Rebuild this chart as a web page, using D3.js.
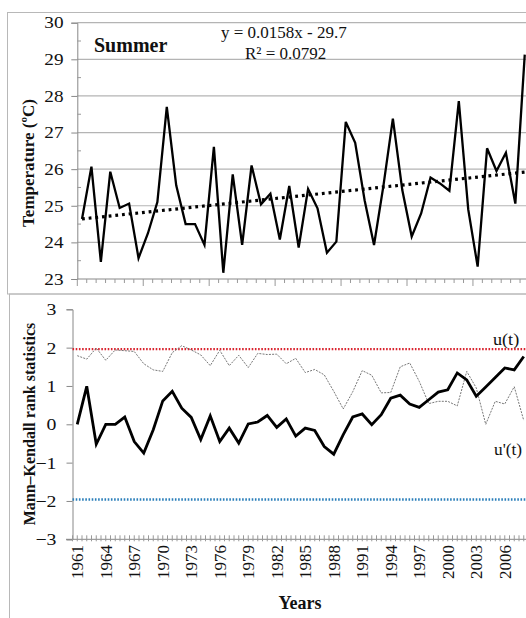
<!DOCTYPE html>
<html><head><meta charset="utf-8">
<script src="https://cdn.jsdelivr.net/npm/d3@7"></script>
<style>body{margin:0;background:#fff}svg{display:block}text{font-family:"Liberation Serif","Times New Roman",serif;fill:#111}</style>
</head><body><svg id="c" width="526" height="618"></svg>
<script>
const years = [1961,1962,1963,1964,1965,1966,1967,1968,1969,1970,1971,1972,1973,1974,1975,1976,1977,1978,1979,1980,1981,1982,1983,1984,1985,1986,1987,1988,1989,1990,1991,1992,1993,1994,1995,1996,1997,1998,1999,2000,2001,2002,2003,2004,2005,2006,2007,2008];
const temperature = [24.64,26.07,23.47,25.93,24.94,25.06,23.57,24.25,25.1,27.7,25.56,24.5,24.5,23.93,26.61,23.17,25.86,23.93,26.1,25.04,25.33,24.08,25.54,23.86,25.46,24.93,23.72,24.02,27.29,26.72,25.15,23.93,25.55,27.38,25.43,24.16,24.79,25.77,25.61,25.41,27.86,24.9,23.34,26.57,25.95,26.45,25.06,29.13];
const trendYears = [1961, 2008];
const trendValues = [24.64, 25.92];
const uForward = [0.0,0.99,-0.52,0.0,0.0,0.19,-0.45,-0.75,-0.14,0.61,0.86,0.42,0.18,-0.4,0.22,-0.45,-0.1,-0.49,0.01,0.06,0.23,-0.08,0.14,-0.31,-0.1,-0.16,-0.58,-0.78,-0.27,0.19,0.27,-0.01,0.25,0.68,0.76,0.53,0.44,0.64,0.84,0.9,1.34,1.16,0.73,0.97,1.22,1.47,1.42,1.77];
const uBackward = [1.79,1.7,1.99,1.67,1.94,1.92,1.9,1.58,1.42,1.38,1.87,2.05,1.94,1.81,1.53,1.93,1.53,1.8,1.48,1.85,1.82,1.83,1.58,1.72,1.35,1.43,1.29,0.86,0.4,0.85,1.4,1.28,0.82,0.83,1.5,1.6,1.12,0.54,0.6,0.6,0.48,1.38,0.95,0.0,0.6,0.53,0.98,0.1];
const tempTicks = [23,24,25,26,27,28,29,30];
const mkTicks = [-3,-2,-1,0,1,2,3];
const criticalValues = [1.96, -1.96];
const yearLabels = [1961,1964,1967,1970,1973,1976,1979,1982,1985,1988,1991,1994,1997,2000,2003,2006];

const SX = 1.2; // horizontal stretch of the source picture's tick lettering
const svg = d3.select("#c");
function stext(g, x, y, txt, size, opts={}) {
  const sx = opts.sx || SX;
  return g.append("text")
    .attr("transform", `translate(${x},${y}) scale(${sx},1)`)
    .attr("text-anchor", opts.anchor || "start")
    .attr("dy", opts.dy || null)
    .style("font-size", size + "px")
    .style("font-weight", opts.bold ? "bold" : null)
    .attr("fill", opts.fill || "#111")
    .text(txt);
}
svg.append("rect").attr("x",7.5).attr("y",12.5).attr("width",560).attr("height",281.5).attr("fill","none").attr("stroke","#b8b8b8");
svg.append("rect").attr("x",9.5).attr("y",294).attr("width",560).attr("height",340).attr("fill","none").attr("stroke","#b8b8b8");

// ---------- TOP PANEL ----------
const xT = d3.scaleBand().domain(years).range([77.3, 77.3 + 48*9.42]);
const yT = d3.scaleLinear().domain([23,30]).range([279, 22.7]);
const gT = svg.append("g");
gT.selectAll("line.grid").data(tempTicks.slice(1)).join("line")
  .attr("x1",77.3).attr("x2",526).attr("y1",d=>yT(d)).attr("y2",d=>yT(d))
  .attr("stroke","#b4b4b4").attr("stroke-width",1.2);
const axT = d3.axisLeft(yT).tickValues(tempTicks).tickSize(6).tickFormat(d3.format("d"));
const ay = gT.append("g").attr("transform","translate(77.3,0)").call(axT);
ay.select(".domain").attr("stroke","#888");
ay.selectAll(".tick line").attr("stroke","#888");
ay.selectAll(".tick text").remove();
tempTicks.forEach(t => stext(gT, 63.5, yT(t), d3.format("d")(t), 16, {anchor:"end", dy:"0.36em", fill:"#222"}));
gT.selectAll("line.minor").data(tempTicks.slice(0,-1).map(d=>d+0.5)).join("line")
  .attr("x1",77.3).attr("x2",81).attr("y1",d=>yT(d)).attr("y2",d=>yT(d)).attr("stroke","#999");
gT.append("line").attr("x1",77.3).attr("x2",526).attr("y1",279).attr("y2",279).attr("stroke","#888");
gT.selectAll("line.xt").data(d3.range(0,49)).join("line")
  .attr("x1",i=>77.3+i*9.42).attr("x2",i=>77.3+i*9.42).attr("y1",279)
  .attr("y2",i=>i%7===0?286:283).attr("stroke","#999");
gT.append("path").datum(trendYears.map((y,i)=>[y,trendValues[i]]))
  .attr("d",d3.line().x(d=>xT(d[0])+xT.bandwidth()/2).y(d=>yT(d[1])))
  .attr("fill","none").attr("stroke","#000").attr("stroke-width",3.2)
  .attr("stroke-dasharray","2.8 3.9");
gT.append("path").datum(years.map((y,i)=>[y,temperature[i]]))
  .attr("d",d3.line().x(d=>xT(d[0])+xT.bandwidth()/2).y(d=>yT(d[1])))
  .attr("fill","none").attr("stroke","#000").attr("stroke-width",2.3);
gT.append("text").attr("x",94).attr("y",52).style("font-size","20px").style("font-weight","bold").text("Summer");
gT.append("text").attr("x",221).attr("y",37.5).style("font-size","17px").text("y = 0.0158x - 29.7");
gT.append("text").attr("x",245).attr("y",58.5).style("font-size","17px").text("R² = 0.0792");
gT.append("text").attr("transform","translate(34,163) rotate(-90)").attr("text-anchor","middle")
  .style("font-size","17px").style("font-weight","bold").text("Temperature (ºC)");

// ---------- BOTTOM PANEL ----------
const xB = d3.scaleLinear().domain([1960.5, 2008.5]).range([72.5, 72.5 + 48*9.5]);
const yB = d3.scaleLinear().domain([-3,3]).range([539.3, 309.3]);
const gB = svg.append("g");
const axB = d3.axisLeft(yB).tickValues(mkTicks).tickSize(6).tickFormat(d3.format("d"));
const ab = gB.append("g").attr("transform","translate(72.5,0)").call(axB);
ab.select(".domain").attr("stroke","#888");
ab.selectAll(".tick line").attr("stroke","#888");
ab.selectAll(".tick text").remove();
mkTicks.forEach(t => stext(gB, 56.5, yB(t), d3.format("d")(t), 16.5, {anchor:"end", dy:"0.36em", fill:"#222"}));
gB.append("line").attr("x1",66).attr("x2",526).attr("y1",yB(-3)).attr("y2",yB(-3)).attr("stroke","#888");
gB.selectAll("line.xt").data(d3.range(0,97)).join("line")
  .attr("x1",i=>xB(1960.5+i*0.5)).attr("x2",i=>xB(1960.5+i*0.5))
  .attr("y1",yB(-3)-4).attr("y2",yB(-3)+2).attr("stroke","#999");
gB.selectAll("text.yl").data(yearLabels).join("text")
  .attr("transform",d=>`translate(${xB(d)+6},545) rotate(-90)`).attr("text-anchor","end")
  .style("font-size","17px").attr("fill","#222").text(d=>d);
const critColors = ["#d9232e","#2b7fba"];
gB.selectAll("line.crit").data(criticalValues).join("line")
  .attr("x1",72.5).attr("x2",526).attr("y1",d=>yB(d)).attr("y2",d=>yB(d))
  .attr("stroke",(d,i)=>critColors[i]).attr("stroke-width",2.4).attr("stroke-dasharray","1.6 1.6");
const lineB = d3.line().x(d=>xB(d[0])).y(d=>yB(d[1]));
gB.append("path").datum(years.map((y,i)=>[y,uBackward[i]]))
  .attr("d",lineB).attr("fill","none").attr("stroke","#777").attr("stroke-width",1)
  .attr("stroke-dasharray","2 1.2");
gB.append("path").datum(years.map((y,i)=>[y,uForward[i]]))
  .attr("d",lineB).attr("fill","none").attr("stroke","#000").attr("stroke-width",2.8);
stext(gB, 493, 345, "u(t)", 16.5, {sx:1.1});
stext(gB, 494, 455, "u'(t)", 16.5, {sx:1.05});
gB.append("text").attr("transform","translate(35,424) rotate(-90)").attr("text-anchor","middle")
  .style("font-size","16px").style("font-weight","bold").text("Mann–Kendall rank statistics");
gB.append("text").attr("x",300).attr("y",609).attr("text-anchor","middle")
  .style("font-size","18px").style("font-weight","bold").text("Years");
</script></body></html>
